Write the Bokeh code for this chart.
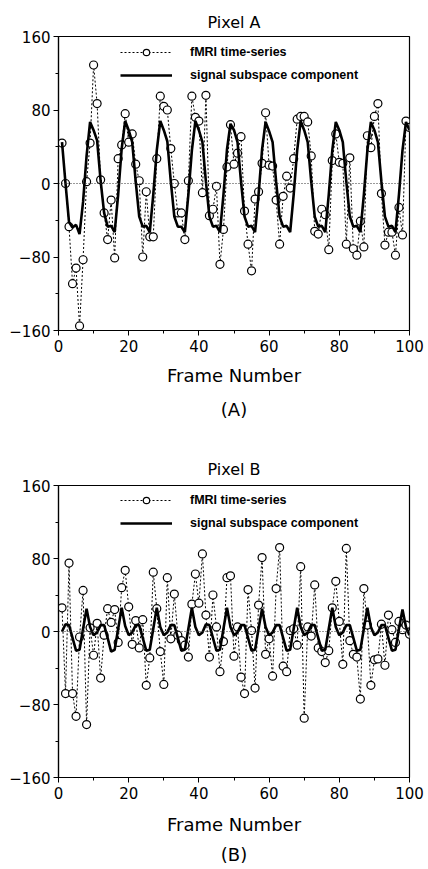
from bokeh.plotting import figure
from bokeh.models import Span, Legend, LegendItem, Title, FixedTicker, Range1d
from bokeh.layouts import column
from bokeh.embed import file_html
from bokeh.resources import INLINE

frames = list(range(1, 101))

a_fmri = [44, 0, -47, -109, -92, -155, -83, 2, 44, 129,
          87, 4, -32, -61, -18, -81, 27, 42, 76, 45,
          54, 21, 3, -80, -9, -58, -58, 27, 95, 84,
          80, 38, 0, -32, -32, -61, 3, 95, 72, 68,
          -10, 96, -35, -28, -3, -88, -50, 18, 64, 21,
          33, 51, -30, -66, -95, -17, -9, 22, 77, 20,
          19, -18, -66, -14, 8, -5, 27, 70, 73, 73,
          67, 30, -52, -55, -28, -34, -72, 25, 54, 23,
          22, -66, 28, -71, -78, -41, -69, 52, 39, 73,
          87, -11, -67, -53, -53, -78, -26, -56, 68, 61]

a_signal = [45, 0, -42, -48, -45, -55, -20, 30, 67, 58,
            47, 3, -32, -47, -46, -53, -12, 38, 68, 58,
            45, 2, -36, -47, -46, -53, -12, 36, 68, 58,
            46, 2, -36, -47, -47, -53, -12, 36, 68, 58,
            45, 2, -36, -47, -46, -53, -12, 37, 65, 58,
            45, 2, -36, -47, -46, -53, -12, 37, 67, 57,
            45, 2, -36, -47, -46, -53, -12, 36, 68, 58,
            45, 2, -36, -47, -46, -53, -12, 36, 67, 58,
            45, 2, -36, -47, -46, -53, -12, 36, 67, 58,
            45, 2, -36, -47, -46, -53, -12, 36, 67, 58]

b_fmri = [26, -68, 75, -68, -93, -6, 45, -102, 4, -26,
          9, -51, -4, 25, 10, 24, -12, 48, 67, 27,
          -14, 12, -18, 13, -59, -29, 65, 25, -22, -58,
          59, -8, 41, -4, -10, -15, -28, 30, 63, 31,
          85, 18, -28, 40, 5, -44, -11, 59, 61, -27,
          5, -50, -68, 46, 1, -62, 29, 81, -25, -8,
          -49, 47, 92, -38, -44, 1, 3, -15, 71, -95,
          5, -5, 51, -18, -22, -34, -21, 26, 55, 11,
          -36, 91, -10, -25, -28, -74, 47, 7, -59, -31,
          -30, 8, -37, 18, 2, -12, 11, 2, 7, -3]

b_signal = [0, 8, 7, -7, -21, -20, 3, 25, 5, -4,
            -1, 7, 7, -7, -22, -20, 3, 26, 6, -4,
            -1, 7, 7, -7, -21, -20, 3, 26, 5, -4,
            -1, 7, 7, -7, -21, -20, 3, 26, 5, -4,
            -1, 8, 7, -7, -21, -20, 3, 26, 5, -4,
            -1, 7, 7, -7, -21, -20, 3, 25, 5, -4,
            -1, 7, 7, -7, -21, -20, 3, 26, 5, -4,
            -1, 7, 7, -7, -21, -20, 3, 26, 5, -4,
            -1, 7, 7, -7, -21, -20, 3, 26, 5, -4,
            -1, 7, 7, -7, -21, -20, 3, 24, 5, -4]

x_ticks = [0, 20, 40, 60, 80, 100]
x_minor = [10, 30, 50, 70, 90]
y_ticks = [-160, -80, 0, 80, 160]
y_minor = [-120, -40, 40, 120]

FONT = "DejaVu Sans"


def make_panel(title, tag, fmri, signal, height, top, bottom, left, right, leg_xy,
               label_standoff, tag_standoff, title_standoff):
    p = figure(width=428, height=height, x_range=Range1d(0, 100), y_range=Range1d(-160, 160),
               output_backend="svg", toolbar_location=None,
               min_border_top=top, min_border_bottom=bottom,
               min_border_left=left, min_border_right=right)
    p.title.text = title
    p.title.align = "center"
    p.title.text_font = FONT
    p.title.text_font_size = "16px"
    p.title.text_font_style = "normal"
    p.title.text_color = "black"
    p.title.standoff = title_standoff
    p.grid.visible = False
    p.outline_line_color = "black"
    p.outline_line_width = 1.2
    p.background_fill_color = "white"
    p.border_fill_color = "white"

    p.xaxis.ticker = FixedTicker(ticks=x_ticks, minor_ticks=x_minor)
    p.yaxis.ticker = FixedTicker(ticks=y_ticks, minor_ticks=y_minor)
    for ax in (p.xaxis, p.yaxis):
        ax.major_tick_in = 0
        ax.major_tick_out = 5
        ax.minor_tick_in = 0
        ax.minor_tick_out = 3
        ax.axis_line_color = "black"
        ax.axis_line_width = 1.2
        ax.major_tick_line_color = "black"
        ax.minor_tick_line_color = "black"
        ax.major_label_text_font = FONT
        ax.major_label_text_font_size = "15px"
        ax.major_label_text_color = "black"
    p.yaxis.major_label_standoff = 3
    p.xaxis.major_label_standoff = 4
    p.xaxis.axis_label = "Frame Number"
    p.xaxis.axis_label_text_font = FONT
    p.xaxis.axis_label_text_font_size = "18px"
    p.xaxis.axis_label_text_font_style = "normal"
    p.xaxis.axis_label_text_color = "black"
    p.xaxis.axis_label_standoff = label_standoff

    p.add_layout(Title(text=tag, align="center", text_font=FONT, text_font_size="18px",
                       text_font_style="normal", text_color="black", standoff=tag_standoff), "below")

    p.add_layout(Span(location=0, dimension="width", line_color="#333333",
                      line_dash="1 2", line_width=1))

    r_dot = p.line(frames, fmri, line_color="black", line_dash="2 2", line_width=1)
    r_pts = p.scatter(frames, fmri, marker="circle", size=8, line_color="black",
                      line_width=1.2, fill_color="white")
    r_sig = p.line(frames, signal, line_color="black", line_width=2.6)

    legend = Legend(items=[LegendItem(label="fMRI time-series", renderers=[r_dot, r_pts]),
                           LegendItem(label="signal subspace component", renderers=[r_sig])],
                    location=leg_xy)
    legend.border_line_alpha = 0
    legend.background_fill_alpha = 0
    legend.padding = 0
    legend.margin = 0
    legend.spacing = 7
    legend.glyph_width = 52
    legend.glyph_height = 16
    legend.label_height = 16
    legend.label_standoff = 18
    legend.label_text_font = "Liberation Sans"
    legend.label_text_font_size = "12.5px"
    legend.label_text_font_style = "bold"
    legend.label_text_color = "black"
    p.add_layout(legend)
    return p


pa = make_panel("Pixel A", "(A)", a_fmri, a_signal, 434, 36, 104, 58, 17, (62, 247), 10, 16, 10)
pb = make_panel("Pixel B", "(B)", b_fmri, b_signal, 435, 51, 92, 56, 19, (62, 246), 12, 8, 13)

layout = column(pa, pb, spacing=0)
open("out.html", "w").write(file_html(layout, INLINE))
